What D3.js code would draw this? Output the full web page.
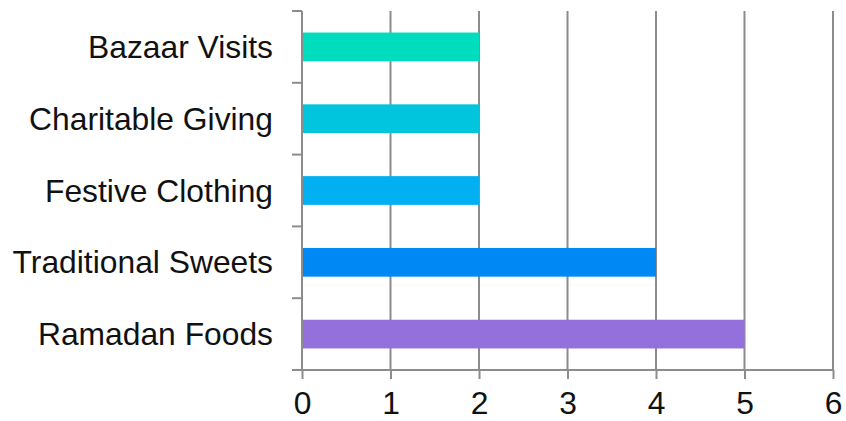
<!DOCTYPE html>
<html>
<head>
<meta charset="utf-8">
<script src="https://cdn.jsdelivr.net/npm/d3@7"></script>
<style>
  html, body { margin: 0; padding: 0; background: #fff; }
  svg { display: block; }
  text { font-family: "Liberation Sans", Arial, sans-serif; fill: #111; }
</style>
</head>
<body>
<svg id="chart" width="846" height="421"></svg>
<script>
// Categories, top to bottom
const categories = ["Bazaar Visits", "Charitable Giving", "Festive Clothing", "Traditional Sweets", "Ramadan Foods"];
const values = [2, 2, 2, 4, 5];
const barColors = ["#00DCBE", "#00C5DD", "#00B0F0", "#0088F5", "#9370DB"];
const xTicks = [0, 1, 2, 3, 4, 5, 6];

const svg = d3.select("#chart");
const gridColor = "#8c8c8c";
const fontSize = 31.8;

const x = d3.scaleLinear().domain([0, 6]).range([302, 833]);
const y = d3.scaleBand().domain(categories).range([11, 370]).padding(0);
const barH = y.bandwidth() * 0.4;

// Vertical gridlines
svg.append("g").selectAll("line").data(xTicks.slice(1)).join("line")
  .attr("x1", d => x(d)).attr("x2", d => x(d))
  .attr("y1", 11).attr("y2", 370)
  .attr("stroke", gridColor).attr("stroke-width", 2);

// Bars
svg.append("g").selectAll("rect").data(categories).join("rect")
  .attr("x", x(0))
  .attr("y", d => y(d) + (y.bandwidth() - barH) / 2)
  .attr("width", (d, i) => x(values[i]) - x(0))
  .attr("height", barH)
  .attr("fill", (d, i) => barColors[i]);

// Bottom axis
const xAxis = d3.axisBottom(x).tickValues(xTicks).tickSize(9).tickPadding(12).tickSizeOuter(0)
  .tickFormat(d3.format("d"));
const gx = svg.append("g").attr("transform", "translate(0,370)").call(xAxis);
gx.select(".domain").attr("d", `M${x(0) - 10},0H${x(6)}`).attr("stroke", gridColor).attr("stroke-width", 2);
gx.selectAll(".tick line").attr("stroke", gridColor).attr("stroke-width", 2);
gx.selectAll(".tick text").attr("font-size", fontSize).attr("font-family", "Liberation Sans, Arial, sans-serif").attr("fill", "#111");

// Left axis: category labels with ticks at band boundaries
const gy = svg.append("g").attr("transform", `translate(${x(0)},0)`);
gy.append("line").attr("x1", 0).attr("x2", 0).attr("y1", 11).attr("y2", 370)
  .attr("stroke", gridColor).attr("stroke-width", 2);
const bounds = categories.map(c => y(c)).concat([y.range()[1]]);
gy.selectAll("line.b").data(bounds).join("line").attr("class", "b")
  .attr("x1", -10).attr("x2", 0).attr("y1", d => d).attr("y2", d => d)
  .attr("stroke", gridColor).attr("stroke-width", 2);
gy.selectAll("text").data(categories).join("text")
  .attr("x", -29)
  .attr("y", d => y(d) + y.bandwidth() / 2)
  .attr("dy", "0.35em")
  .attr("text-anchor", "end")
  .attr("font-size", fontSize)
  .text(d => d);
</script>
</body>
</html>
